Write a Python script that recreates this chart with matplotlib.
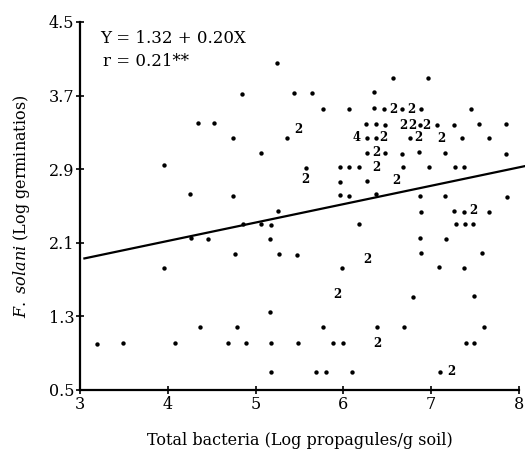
import matplotlib.pyplot as plt

# single points
dot_x = [5.24, 4.85, 5.44, 4.34, 4.53, 4.74, 5.36, 5.06, 3.96, 4.25, 4.74,
         6.56, 6.96, 5.64, 6.35, 5.77, 6.06, 6.35, 6.46, 6.67, 6.88, 7.45,
         6.26, 6.37, 6.47, 6.87, 7.07, 7.26, 7.54, 7.85,
         6.27, 6.37, 6.76, 7.35, 7.66,
         6.27, 6.47, 6.67, 6.86, 7.16, 7.85,
         5.57, 5.96, 6.06, 6.18, 6.68, 6.98, 7.27, 7.37,
         5.96, 6.27,
         5.96, 6.06, 6.37, 6.87, 7.16, 7.86,
         5.26, 4.86, 5.06, 5.18, 4.26, 4.46, 5.16, 4.77, 5.27, 5.47, 3.96, 5.16,
         4.37, 4.79, 3.19, 3.49, 4.08, 4.69, 4.89, 5.17, 5.48, 5.18,
         6.88, 7.26, 7.37, 7.66, 6.18, 7.28, 7.38, 7.48, 6.87, 7.17, 6.88, 7.58,
         5.98, 7.09, 7.37, 6.79, 7.49, 5.77, 6.38, 6.69, 7.60, 5.88, 6.00, 7.40,
         7.49, 5.69, 5.80, 6.10, 7.10]
dot_y = [4.05, 3.72, 3.73, 3.40, 3.40, 3.24, 3.24, 3.08, 2.95, 2.63, 2.61,
         3.89, 3.89, 3.73, 3.74, 3.55, 3.55, 3.56, 3.55, 3.55, 3.55, 3.55,
         3.39, 3.39, 3.38, 3.38, 3.38, 3.38, 3.39, 3.39,
         3.24, 3.24, 3.24, 3.24, 3.24,
         3.08, 3.08, 3.07, 3.09, 3.08, 3.07,
         2.91, 2.92, 2.92, 2.92, 2.92, 2.92, 2.92, 2.92,
         2.76, 2.77,
         2.62, 2.61, 2.63, 2.61, 2.61, 2.60,
         2.45, 2.30, 2.30, 2.29, 2.15, 2.14, 2.14, 1.98, 1.98, 1.97, 1.83, 1.35,
         1.18, 1.19, 1.00, 1.01, 1.01, 1.01, 1.01, 1.01, 1.01, 0.70,
         2.43, 2.45, 2.44, 2.44, 2.30, 2.30, 2.30, 2.30, 2.15, 2.14, 1.99, 1.99,
         1.83, 1.84, 1.83, 1.51, 1.52, 1.19, 1.19, 1.19, 1.19, 1.01, 1.01, 1.01,
         1.01, 0.70, 0.70, 0.70, 0.70]

# overlapping points, drawn as counts
cnt_x = [5.49, 6.57, 6.77, 6.68, 6.79, 6.95, 6.46, 6.85, 7.12, 6.37, 5.57,
         6.38, 6.60, 7.48, 6.27, 5.93, 6.39, 7.23, 6.15]
cnt_y = [3.33, 3.55, 3.55, 3.38, 3.38, 3.38, 3.24, 3.24, 3.23, 3.08, 2.79,
         2.92, 2.78, 2.45, 1.92, 1.54, 1.01, 0.70, 3.24]
cnt_n = ['2'] * 18 + ['4']

a, b = 1.32, 0.20
line_x = [3.05, 8.07]

plt.rcParams['font.family'] = 'DejaVu Serif'
plt.rcParams['mathtext.fontset'] = 'dejavuserif'
fig = plt.figure(figsize=(5.25, 4.58), dpi=100)
ax = fig.add_axes([0.1524, 0.1485, 0.8362, 0.8035])

ax.scatter(dot_x, dot_y, s=10, c='black', linewidths=0, zorder=3)
for x, y, n in zip(cnt_x, cnt_y, cnt_n):
    ax.text(x, y, n, ha='center', va='center', fontsize=8.5, fontweight='bold')
ax.plot(line_x, [a + b * x for x in line_x], color='black', lw=1.6, clip_on=False)

ax.set_xlim(3, 8)
ax.set_ylim(0.5, 4.5)
ax.set_xticks([3, 4, 5, 6, 7, 8])
ax.set_yticks([0.5, 1.3, 2.1, 2.9, 3.7, 4.5])
ax.set_yticklabels(['0.5', '1.3', '2.1', '2.9', '3.7', '4.5'])
ax.tick_params(direction='inout', length=6, width=1.2, labelsize=11.5, pad=1)
for s in ['top', 'right']:
    ax.spines[s].set_visible(False)
for s in ['left', 'bottom']:
    ax.spines[s].set_linewidth(1.6)

ax.text(0.045, 0.955, 'Y = 1.32 + 0.20X', transform=ax.transAxes, fontsize=12, va='center')
ax.text(0.052, 0.893, 'r = 0.21**', transform=ax.transAxes, fontsize=12, va='center')

ax.set_xlabel('Total bacteria (Log propagules/g soil)', fontsize=11.5, labelpad=14)
ax.set_ylabel(r'$\it{F.\ solani}$ (Log germinatios)', fontsize=11.5, labelpad=12)

fig.savefig('out.png', dpi=100)
